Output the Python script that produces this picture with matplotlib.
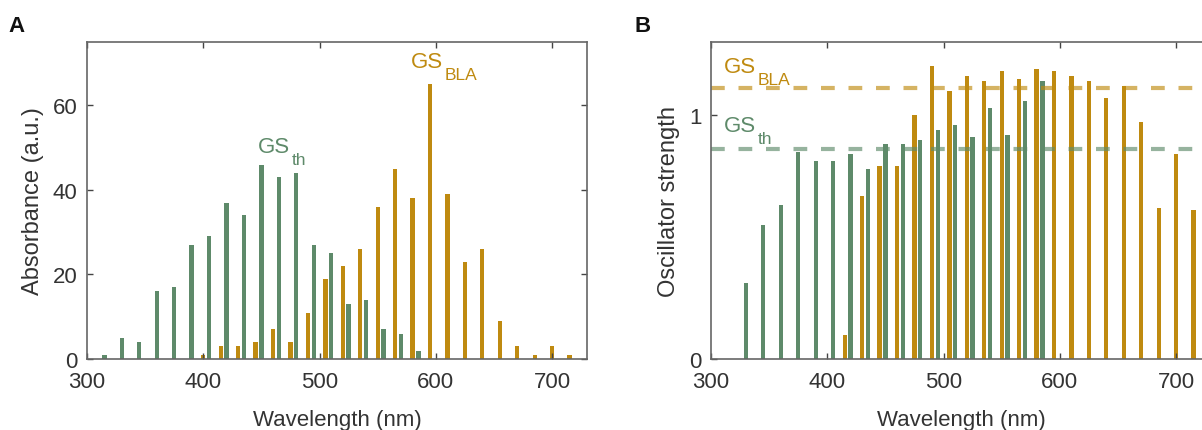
import matplotlib
matplotlib.use("Agg")
import matplotlib.pyplot as plt
import numpy as np

plt.rcParams['font.family'] = ['Liberation Sans', 'DejaVu Sans']

green = '#5e8a6a'
orange = '#bf8a10'
grey = '#333333'

# Panel A: absorbance
wl_th_A = np.arange(315, 586, 15)
abs_th = [1, 5, 4, 16, 17, 27, 29, 37, 34, 46, 43, 44, 27, 25, 13, 14, 7, 6, 2]
wl_bla_A = np.arange(400, 716, 15)
abs_bla = [1, 3, 3, 4, 7, 4, 11, 19, 22, 26, 36, 45, 38, 65, 39, 23, 26, 9, 3, 1, 3, 1]

# Panel B: oscillator strength
wl_th_B = np.arange(330, 586, 15)
osc_th = [0.31, 0.55, 0.63, 0.85, 0.81, 0.81, 0.84, 0.78, 0.88, 0.88, 0.90,
          0.94, 0.96, 0.91, 1.03, 0.92, 1.06, 1.14]
wl_bla_B = np.arange(415, 716, 15)
osc_bla = [0.10, 0.67, 0.79, 0.79, 1.00, 1.20, 1.10, 1.16, 1.14, 1.18, 1.15,
           1.19, 1.18, 1.16, 1.14, 1.07, 1.12, 0.97, 0.62, 0.84, 0.61]
mean_th = 0.86
mean_bla = 1.11


def gs_label(ax, x, y, sub, color):
    # "GS" with a subscript, drawn as two texts
    ax.text(x, y, 'GS', color=color, fontsize=16, va='baseline')
    ax.annotate(sub, xy=(x, y), xytext=(24.5, -8.5), textcoords='offset points',
                color=color, fontsize=12.5, va='baseline')


fig = plt.figure(figsize=(12.02, 4.31), dpi=100)
axA = fig.add_axes([87 / 1202, 1 - 360 / 431, 500 / 1202, 317 / 431])
axB = fig.add_axes([711 / 1202, 1 - 360 / 431, 500 / 1202, 317 / 431])

bw = 3.7
axA.bar(wl_th_A, abs_th, width=bw, color=green, linewidth=0)
axA.bar(wl_bla_A, abs_bla, width=bw, color=orange, linewidth=0)
axA.set_xlim(300, 730)
axA.set_ylim(0, 75)
axA.set_yticks([0, 20, 40, 60])
axA.set_ylabel('Absorbance (a.u.)', fontsize=17, color=grey, labelpad=6)
gs_label(axA, 447, 48.9, 'th', green)
gs_label(axA, 578.5, 69, 'BLA', orange)

axB.bar(wl_th_B, osc_th, width=bw, color=green, linewidth=0)
axB.bar(wl_bla_B, osc_bla, width=bw, color=orange, linewidth=0)
axB.axhline(mean_bla, color=orange, alpha=0.65, lw=3, dashes=(3.3, 3.3))
axB.axhline(mean_th, color=green, alpha=0.65, lw=3, dashes=(3.3, 3.3))
axB.set_xlim(300, 730)
axB.set_ylim(0, 1.3)
axB.set_yticks([0, 1])
axB.set_ylabel('Oscillator strength', fontsize=17, color=grey, labelpad=6)
gs_label(axB, 311, 1.177, 'BLA', orange)
gs_label(axB, 311, 0.936, 'th', green)

for ax in (axA, axB):
    ax.set_xticks([300, 400, 500, 600, 700])
    ax.set_xlabel('Wavelength (nm)', fontsize=16, color=grey, labelpad=12)
    ax.tick_params(direction='in', length=4, width=1, colors='#444444',
                   labelsize=16, labelcolor=grey, top=True, right=True)
    ax.tick_params(axis='x', pad=9)
    ax.tick_params(axis='y', pad=7)
    for s in ax.spines.values():
        s.set_color('#666666')
        s.set_linewidth(1.2)

fig.text(8 / 1202, 1 - 32 / 431, 'A', fontsize=16, fontweight='bold', color='#111111')
fig.text(635 / 1202, 1 - 32 / 431, 'B', fontsize=16, fontweight='bold', color='#111111')

fig.savefig('out.png', dpi=100)
